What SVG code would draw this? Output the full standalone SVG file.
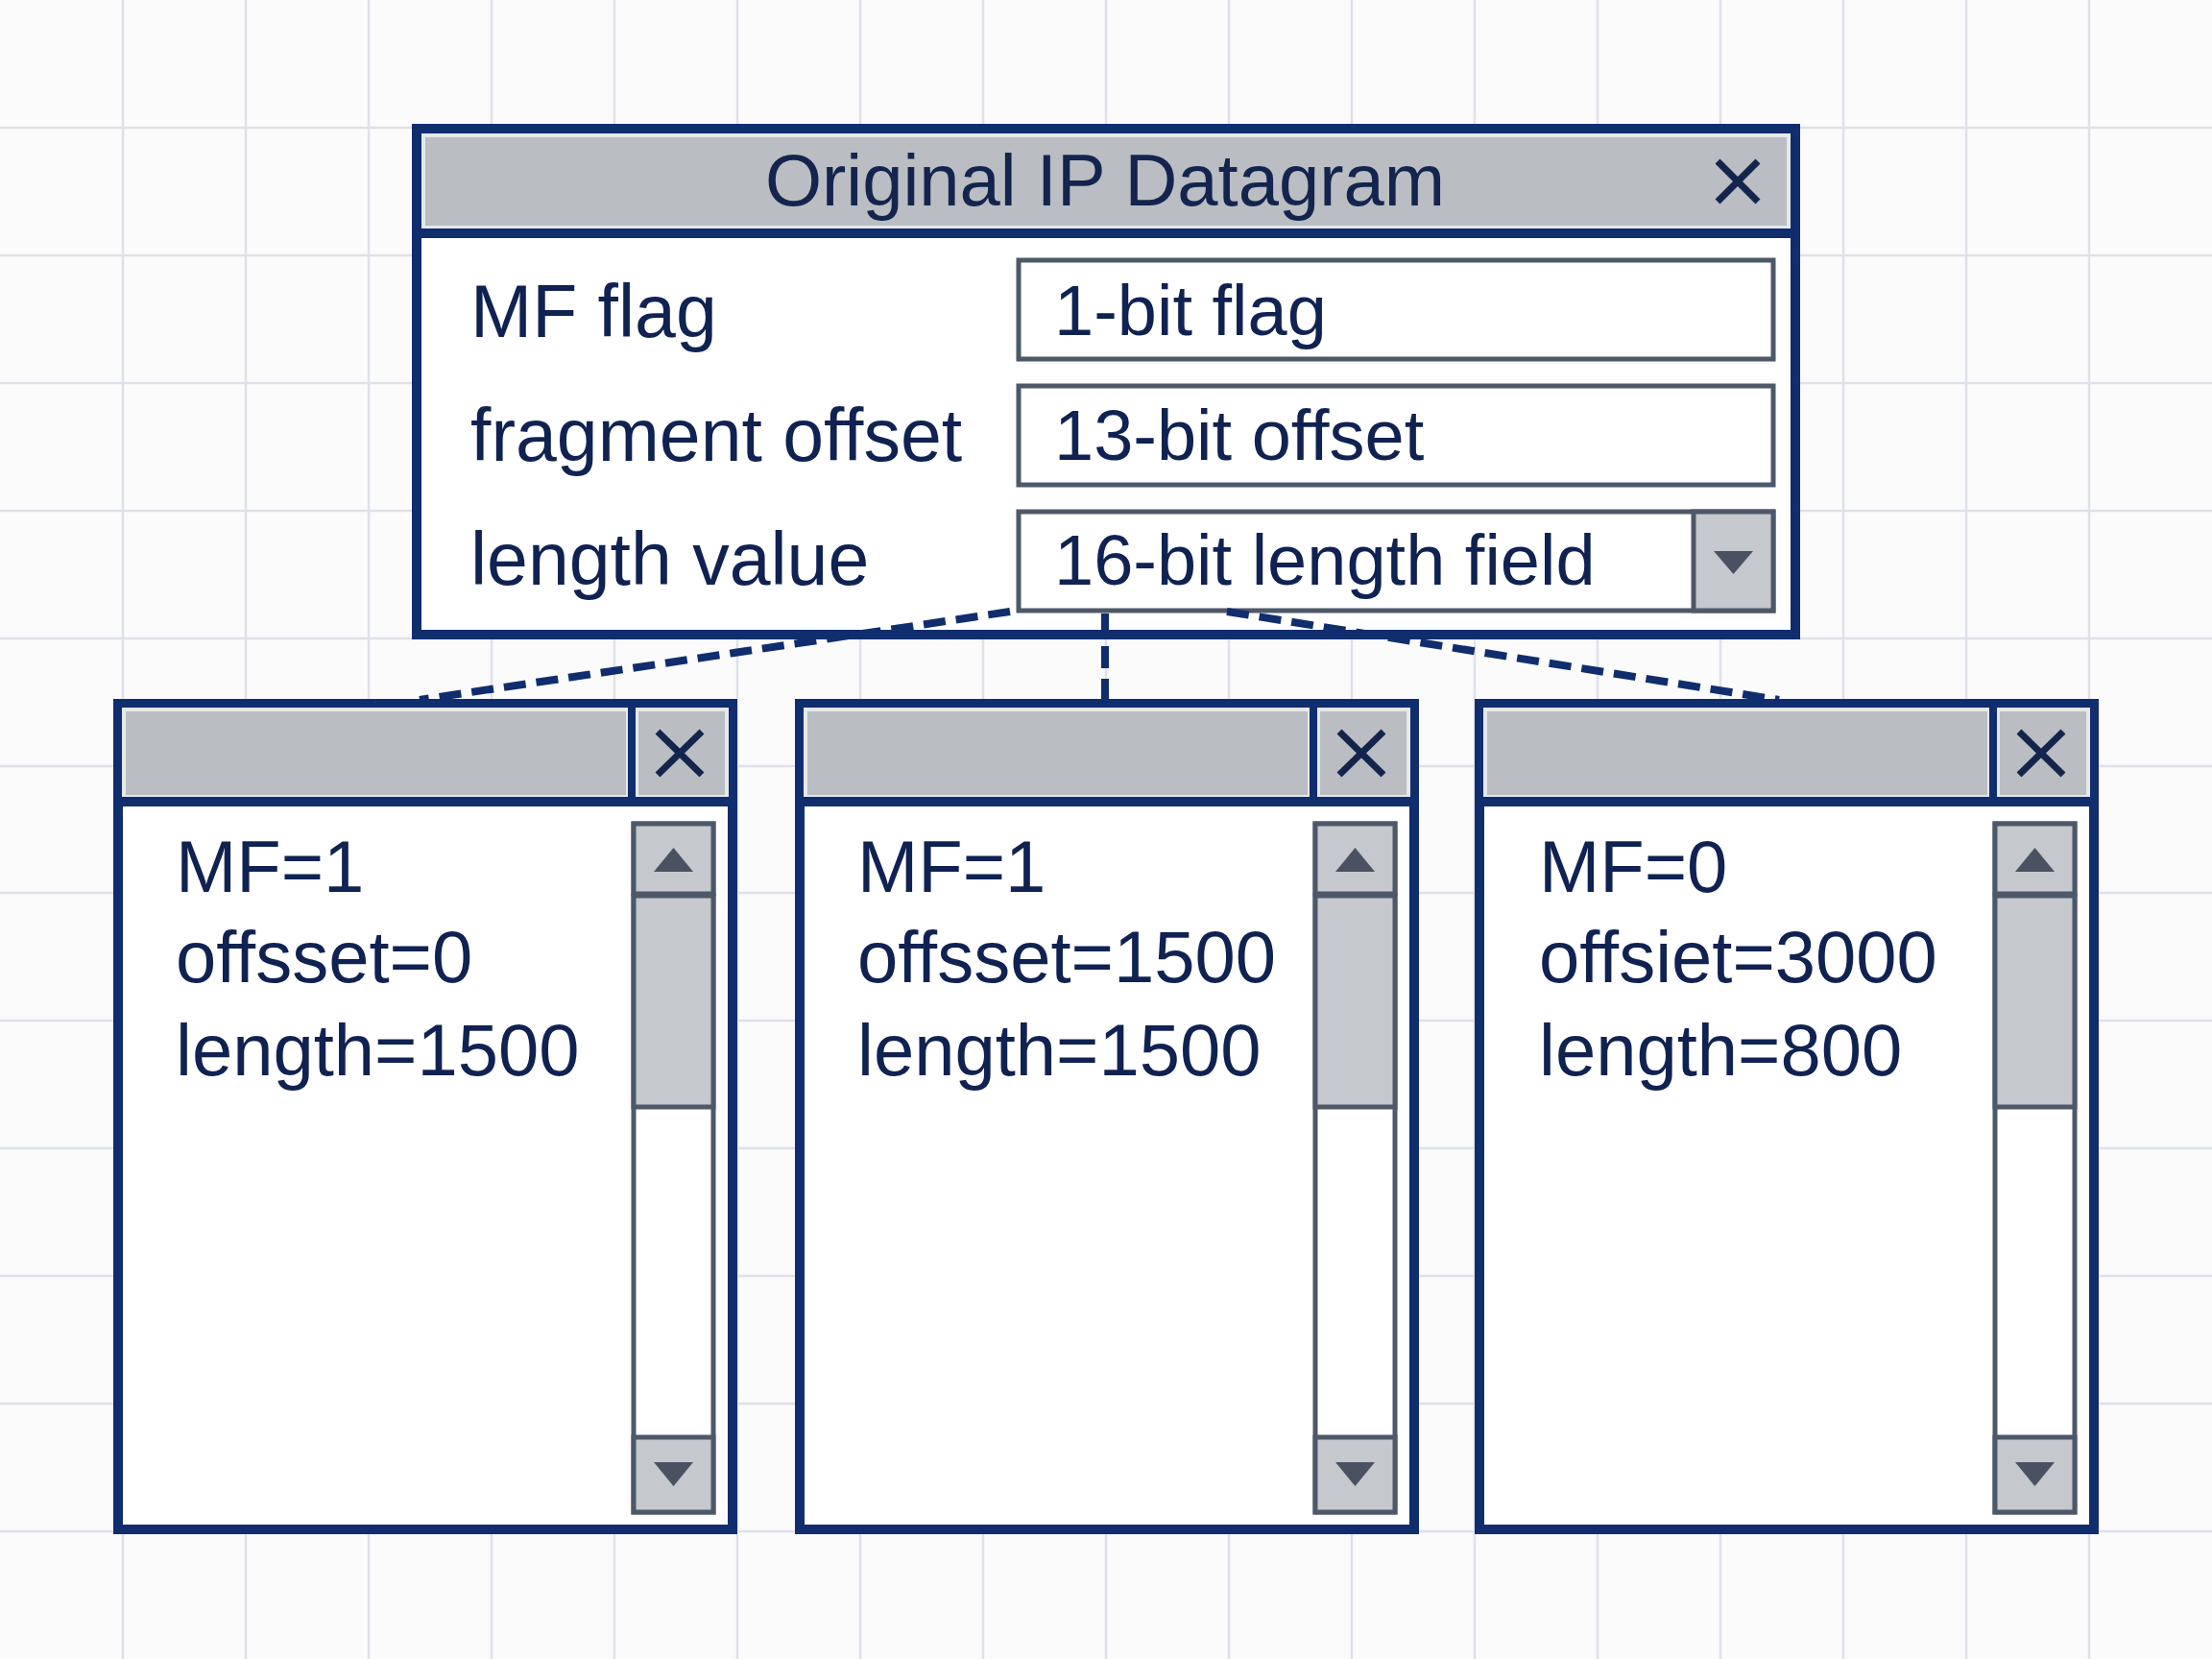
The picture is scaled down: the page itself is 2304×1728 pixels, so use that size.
<svg xmlns="http://www.w3.org/2000/svg" width="2304" height="1728" viewBox="0 0 2304 1728">
<defs>
<style>
.grid{stroke:#dfe1e8;stroke-width:2.5}
.win{fill:#ffffff;stroke:#102d6e;stroke-width:10}
.bar{fill:#babdc2;stroke:#e7e8eb;stroke-width:4}
.sep{stroke:#102d6e;stroke-width:10}
.vsep{stroke:#102d6e;stroke-width:8}
.xi{stroke:#14254d;stroke-width:7;stroke-linecap:butt}
.title{font-family:"Liberation Sans",Arial,sans-serif;font-size:76px;fill:#13244f;text-anchor:middle}
.lbl{font-family:"Liberation Sans",Arial,sans-serif;font-size:77px;fill:#0f2252}
.fld{font-family:"Liberation Sans",Arial,sans-serif;font-size:74px;fill:#0f2252}
.txt{font-family:"Liberation Sans",Arial,sans-serif;font-size:76px;fill:#0f2252}
.box{fill:#ffffff;stroke:#4d5869;stroke-width:5}
.btn{fill:#c5c8cc;stroke:#4d5869;stroke-width:5}
.tri{fill:#4a5262}
.conn{fill:none;stroke:#102d6e;stroke-width:8;stroke-dasharray:23 11}
</style>
</defs>
<rect width="2304" height="1728" fill="#fbfbfc"/>
<g id="grid">
<line class="grid" x1="128" y1="0" x2="128" y2="1728"/><line class="grid" x1="256" y1="0" x2="256" y2="1728"/><line class="grid" x1="384" y1="0" x2="384" y2="1728"/><line class="grid" x1="512" y1="0" x2="512" y2="1728"/><line class="grid" x1="640" y1="0" x2="640" y2="1728"/><line class="grid" x1="768" y1="0" x2="768" y2="1728"/><line class="grid" x1="896" y1="0" x2="896" y2="1728"/><line class="grid" x1="1024" y1="0" x2="1024" y2="1728"/><line class="grid" x1="1152" y1="0" x2="1152" y2="1728"/><line class="grid" x1="1280" y1="0" x2="1280" y2="1728"/><line class="grid" x1="1408" y1="0" x2="1408" y2="1728"/><line class="grid" x1="1536" y1="0" x2="1536" y2="1728"/><line class="grid" x1="1664" y1="0" x2="1664" y2="1728"/><line class="grid" x1="1792" y1="0" x2="1792" y2="1728"/><line class="grid" x1="1920" y1="0" x2="1920" y2="1728"/><line class="grid" x1="2048" y1="0" x2="2048" y2="1728"/><line class="grid" x1="2176" y1="0" x2="2176" y2="1728"/>
<line class="grid" x1="0" y1="133" x2="2304" y2="133"/><line class="grid" x1="0" y1="266" x2="2304" y2="266"/><line class="grid" x1="0" y1="399" x2="2304" y2="399"/><line class="grid" x1="0" y1="532" x2="2304" y2="532"/><line class="grid" x1="0" y1="665" x2="2304" y2="665"/><line class="grid" x1="0" y1="798" x2="2304" y2="798"/><line class="grid" x1="0" y1="930" x2="2304" y2="930"/><line class="grid" x1="0" y1="1063" x2="2304" y2="1063"/><line class="grid" x1="0" y1="1196" x2="2304" y2="1196"/><line class="grid" x1="0" y1="1329" x2="2304" y2="1329"/><line class="grid" x1="0" y1="1462" x2="2304" y2="1462"/><line class="grid" x1="0" y1="1595" x2="2304" y2="1595"/>
</g>

<g id="main-window">
<rect class="win" x="434" y="134" width="1436" height="527"/>
<rect class="bar" x="441" y="141" width="1422" height="96"/>
<line class="sep" x1="439" y1="243" x2="1865" y2="243"/>
<text class="title" x="1151" y="214">Original IP Datagram</text>
<line class="xi" x1="1789" y1="168" x2="1831" y2="210"/><line class="xi" x1="1831" y1="168" x2="1789" y2="210"/>
<text class="lbl" x="490" y="351">MF flag</text>
<text class="lbl" x="490" y="480">fragment offset</text>
<text class="lbl" x="490" y="609">length value</text>
<rect class="box" x="1061" y="271" width="786" height="103"/>
<text class="fld" x="1098" y="349">1-bit flag</text>
<rect class="box" x="1061" y="402" width="786" height="103"/>
<text class="fld" x="1098" y="479">13-bit offset</text>
<rect class="box" x="1061" y="533" width="786" height="103"/>
<text class="fld" x="1098" y="609">16-bit length field</text>
<rect class="btn" x="1764" y="533" width="83" height="103"/>
<polygon class="tri" points="1785,574 1826,574 1805.5,598"/>
</g>

<g id="fragment-1" transform="translate(118,728)">
<rect class="win" x="5" y="5" width="640" height="860"/>
<rect class="bar" x="11" y="11" width="525" height="91"/>
<rect class="bar" x="545" y="11" width="94" height="91"/>
<line class="vsep" x1="540" y1="8" x2="540" y2="104"/>
<line class="sep" x1="8" y1="107" x2="642" y2="107"/>
<line class="xi" x1="567" y1="34" x2="613" y2="79"/><line class="xi" x1="613" y1="34" x2="567" y2="79"/>
<rect class="box" x="542" y="130" width="83" height="717"/>
<rect class="btn" x="542" y="130" width="83" height="73"/>
<polygon class="tri" points="563,180 604,180 583.5,155"/>
<rect class="btn" x="542" y="205" width="83" height="220"/>
<rect class="btn" x="542" y="769" width="83" height="78"/>
<polygon class="tri" points="563,795 604,795 583.5,820"/>
<text class="txt" x="65" y="201">MF=1</text>
<text class="txt" x="65" y="295">offsset=0</text>
<text class="txt" x="65" y="392">length=1500</text>
</g>

<g id="fragment-2" transform="translate(828,728)">
<rect class="win" x="5" y="5" width="640" height="860"/>
<rect class="bar" x="11" y="11" width="525" height="91"/>
<rect class="bar" x="545" y="11" width="94" height="91"/>
<line class="vsep" x1="540" y1="8" x2="540" y2="104"/>
<line class="sep" x1="8" y1="107" x2="642" y2="107"/>
<line class="xi" x1="567" y1="34" x2="613" y2="79"/><line class="xi" x1="613" y1="34" x2="567" y2="79"/>
<rect class="box" x="542" y="130" width="83" height="717"/>
<rect class="btn" x="542" y="130" width="83" height="73"/>
<polygon class="tri" points="563,180 604,180 583.5,155"/>
<rect class="btn" x="542" y="205" width="83" height="220"/>
<rect class="btn" x="542" y="769" width="83" height="78"/>
<polygon class="tri" points="563,795 604,795 583.5,820"/>
<text class="txt" x="65" y="201">MF=1</text>
<text class="txt" x="65" y="295">offsset=1500</text>
<text class="txt" x="65" y="392">length=1500</text>
</g>

<g id="fragment-3" transform="translate(1536,728)">
<rect class="win" x="5" y="5" width="640" height="860"/>
<rect class="bar" x="11" y="11" width="525" height="91"/>
<rect class="bar" x="545" y="11" width="94" height="91"/>
<line class="vsep" x1="540" y1="8" x2="540" y2="104"/>
<line class="sep" x1="8" y1="107" x2="642" y2="107"/>
<line class="xi" x1="567" y1="34" x2="613" y2="79"/><line class="xi" x1="613" y1="34" x2="567" y2="79"/>
<rect class="box" x="542" y="130" width="83" height="717"/>
<rect class="btn" x="542" y="130" width="83" height="73"/>
<polygon class="tri" points="563,180 604,180 583.5,155"/>
<rect class="btn" x="542" y="205" width="83" height="220"/>
<rect class="btn" x="542" y="769" width="83" height="78"/>
<polygon class="tri" points="563,795 604,795 583.5,820"/>
<text class="txt" x="67" y="201">MF=0</text>
<text class="txt" x="67" y="295">offsiet=3000</text>
<text class="txt" x="67" y="392">length=800</text>
</g>

<g id="connectors">
<line class="conn" x1="1052" y1="637" x2="437" y2="729"/>
<line class="conn" x1="1151" y1="639" x2="1151" y2="729"/>
<line class="conn" x1="1278" y1="637" x2="1853" y2="729"/>
</g>
</svg>
